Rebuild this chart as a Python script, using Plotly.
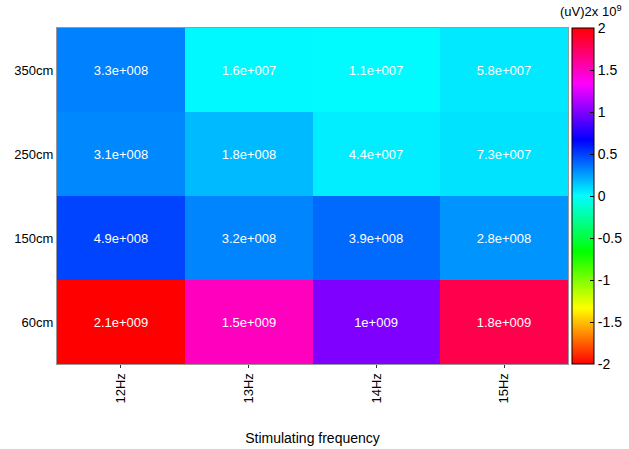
import plotly.graph_objects as go

# Stimulating frequency (columns) and distance (rows, bottom to top)
frequencies = ["12Hz", "13Hz", "14Hz", "15Hz"]
distances = ["60cm", "150cm", "250cm", "350cm"]

# Power values, (uV)^2, one list per distance row
power_60cm = [2.1e9, 1.5e9, 1.0e9, 1.8e9]
power_150cm = [4.9e8, 3.2e8, 3.9e8, 2.8e8]
power_250cm = [3.1e8, 1.8e8, 4.4e7, 7.3e7]
power_350cm = [3.3e8, 1.6e7, 1.1e7, 5.8e7]

# Cell labels as printed in each cell
labels_60cm = ["2.1e+009", "1.5e+009", "1e+009", "1.8e+009"]
labels_150cm = ["4.9e+008", "3.2e+008", "3.9e+008", "2.8e+008"]
labels_250cm = ["3.1e+008", "1.8e+008", "4.4e+007", "7.3e+007"]
labels_350cm = ["3.3e+008", "1.6e+007", "1.1e+007", "5.8e+007"]

# Colour bar ticks in units of 1e9
cbar_ticks = [-2, -1.5, -1, -0.5, 0, 0.5, 1, 1.5, 2]

z = [power_60cm, power_150cm, power_250cm, power_350cm]
text = [labels_60cm, labels_150cm, labels_250cm, labels_350cm]

hsv = [
    [0.0, "#ff0000"],
    [1 / 6, "#ffff00"],
    [2 / 6, "#00ff00"],
    [3 / 6, "#00ffff"],
    [4 / 6, "#0000ff"],
    [5 / 6, "#ff00ff"],
    [1.0, "#ff0000"],
]

font_family = "Liberation Sans, Arial, sans-serif"

fig = go.Figure(
    go.Heatmap(
        x=frequencies,
        y=distances,
        z=z,
        text=text,
        texttemplate="%{text}",
        textfont=dict(family=font_family, size=13, color="white"),
        colorscale=hsv,
        zmin=-2e9,
        zmax=2e9,
        colorbar=dict(
            xref="container",
            x=572 / 629,
            xanchor="left",
            xpad=0,
            ypad=0,
            y=0.5,
            yanchor="middle",
            len=1.0,
            thickness=22,
            outlinecolor="black",
            outlinewidth=1,
            tickvals=[t * 1e9 for t in cbar_ticks],
            ticktext=[f"{t:g}" for t in cbar_ticks],
            ticks="inside",
            ticklen=4,
            tickcolor="black",
            tickfont=dict(family=font_family, size=14, color="black"),
        ),
        hoverinfo="skip",
    )
)

fig.add_annotation(
    text="(uV)2x 10<sup>9</sup>",
    xref="paper",
    yref="paper",
    x=1.045,
    y=1.0,
    xanchor="center",
    yanchor="middle",
    yshift=17,
    showarrow=False,
    font=dict(family=font_family, size=13, color="black"),
)

fig.update_layout(
    width=629,
    height=449,
    margin=dict(l=57, r=61, t=28, b=85, autoexpand=False),
    paper_bgcolor="white",
    plot_bgcolor="white",
    font=dict(family=font_family, size=13, color="black"),
    xaxis=dict(
        title=dict(text="Stimulating frequency", font=dict(size=14), standoff=30),
        tickangle=-90,
        ticks="outside",
        ticklen=3,
        tickcolor="#333",
        showline=True,
        linecolor="#999",
        mirror=True,
        tickfont=dict(size=13),
    ),
    yaxis=dict(
        showline=True,
        linecolor="#999",
        mirror=True,
        ticks="",
        tickfont=dict(size=13),
    ),
)

fig.write_html("out.html")
